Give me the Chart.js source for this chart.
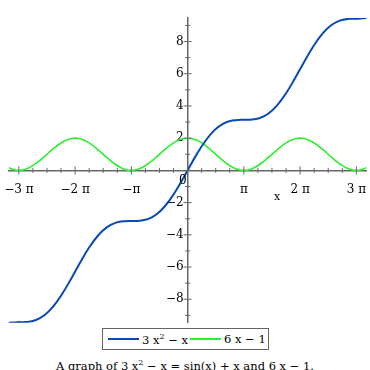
<!DOCTYPE html>
<html>
<head>
<meta charset="utf-8">
<script src="https://cdn.jsdelivr.net/npm/chart.js@4"></script>
<style>
    html, body { margin: 0; padding: 0; background: #fff; }
    #wrap { position: relative; width: 370px; height: 370px; overflow: hidden; font-family: "DejaVu Serif", "Liberation Serif", serif; }
    #plot { position: absolute; left: 0; top: 0; }
    #legend {
        position: absolute; left: 102px; top: 328px; height: 20px;
        border: 1px solid #666; background: #fff; display: flex; align-items: center;
        padding: 0 2px 0 5px; font-size: 11.5px; color: #000; white-space: nowrap;
    }
    #legend .sw { display: inline-block; width: 31px; height: 0; border-top: 2px solid; margin-right: 3px; }
    #legend sup, #caption sup { font-size: 8px; }
    #caption { position: absolute; left: 0; width: 370px; top: 358px; text-align: center; font-size: 11.5px; color: #000; white-space: nowrap; }
</style>
</head>
<body>
<div id="wrap">
    <canvas id="plot" width="370" height="333"></canvas>
    <div id="legend"></div>
    <div id="caption">A graph of 3 x<sup>2</sup> &minus; x = sin(x) + x and 6 x &minus; 1.</div>
</div>
<script>
// values, every 0.5 along x
const xValues = [-10, -9.5, -9, -8.5, -8, -7.5, -7, -6.5, -6, -5.5, -5, -4.5, -4, -3.5, -3, -2.5, -2, -1.5, -1, -0.5,
    0, 0.5, 1, 1.5, 2, 2.5, 3, 3.5, 4, 4.5, 5, 5.5, 6, 6.5, 7, 7.5, 8, 8.5, 9, 9.5, 10];
const blueValues = [-9.46, -9.42, -9.41, -9.30, -8.99, -8.44, -7.66, -6.72, -5.72, -4.79, -4.04, -3.52, -3.24, -3.15, -3.14, -3.10, -2.91, -2.50, -1.84, -0.98,
    0, 0.98, 1.84, 2.50, 2.91, 3.10, 3.14, 3.15, 3.24, 3.52, 4.04, 4.79, 5.72, 6.72, 7.66, 8.44, 8.99, 9.30, 9.41, 9.42, 9.46];
const greenValues = [0.16, 0.00, 0.09, 0.40, 0.85, 1.35, 1.75, 1.98, 1.96, 1.71, 1.28, 0.79, 0.35, 0.06, 0.01, 0.20, 0.58, 1.07, 1.54, 1.88,
    2, 1.88, 1.54, 1.07, 0.58, 0.20, 0.01, 0.06, 0.35, 0.79, 1.28, 1.71, 1.96, 1.98, 1.75, 1.35, 0.85, 0.40, 0.09, 0.00, 0.16];

const seriesNames = ['3 x<sup>2</sup> &minus; x', '6 x &minus; 1'];
const seriesColors = ['#0848b4', '#2cf02c'];

const xTickValues = [-3 * Math.PI, -2 * Math.PI, -Math.PI, Math.PI, 2 * Math.PI, 3 * Math.PI];
const xTickLabels = ['\u22123 \u03c0', '\u22122 \u03c0', '\u2212\u03c0', '\u03c0', '2 \u03c0', '3 \u03c0'];
const yTickValues = [-8, -6, -4, -2, 2, 4, 6, 8];
const axisTitle = 'x';

const xMin = -10, xMax = 10, yMin = -9.46, yMax = 9.46;
const axisColor = '#666';
const serif = '"DejaVu Serif", "Liberation Serif", serif';

// minor tick marks + origin label + x axis name
const axisExtras = {
    id: 'axisExtras',
    afterDraw(chart) {
        const { ctx, scales: { x, y }, chartArea } = chart;
        const x0 = x.getPixelForValue(0), y0 = y.getPixelForValue(0);
        ctx.save();
        ctx.strokeStyle = axisColor;
        ctx.lineWidth = 1;
        ctx.beginPath();
        for (let k = -12; k <= 12; k++) {
            const px = x.getPixelForValue(k * Math.PI / 4);
            const len = k % 4 === 0 ? 4 : 2.5;
            ctx.moveTo(px, y0 - len); ctx.lineTo(px, y0 + len);
        }
        for (let k = -9; k <= 9; k++) {
            const py = y.getPixelForValue(k);
            const len = k % 2 === 0 ? 4 : 2.5;
            ctx.moveTo(x0 - len, py); ctx.lineTo(x0 + len, py);
        }
        ctx.stroke();
        ctx.fillStyle = '#000';
        ctx.font = '12px ' + serif;
        ctx.textAlign = 'right';
        ctx.textBaseline = 'top';
        ctx.fillText('0', x0 - 1, y0 + 4);
        ctx.textAlign = 'center';
        ctx.font = '11px ' + serif;
        ctx.fillText(axisTitle, (x0 + chartArea.right) / 2, y0 + 21);
        ctx.restore();
    }
};

function buildLegend() {
    const el = document.getElementById('legend');
    el.innerHTML = seriesNames.map((name, i) =>
        `<span class="sw" style="border-color:${seriesColors[i]}"></span><span style="margin-right:${i === 0 ? 2 : 0}px">${name}</span>`
    ).join('');
}

function makeChart() {
    const ctx = document.getElementById('plot');
    return new Chart(ctx, {
        type: 'line',
        data: {
            datasets: [
                {
                    data: xValues.map((v, i) => ({ x: v, y: blueValues[i] })),
                    borderColor: seriesColors[0],
                    borderWidth: 2,
                    pointRadius: 0,
                    tension: 0.4
                },
                {
                    data: xValues.map((v, i) => ({ x: v, y: greenValues[i] })),
                    borderColor: seriesColors[1],
                    borderWidth: 1.6,
                    pointRadius: 0,
                    tension: 0.4
                }
            ]
        },
        options: {
            responsive: false,
            animation: false,
            layout: { padding: { left: 7, right: 1, top: 18, bottom: 10 } },
            plugins: { legend: { display: false }, tooltip: { enabled: false } },
            scales: {
                x: {
                    type: 'linear',
                    min: xMin, max: xMax,
                    position: { y: 0 },
                    afterFit: axis => { axis.height = 0; },
                    afterBuildTicks: axis => { axis.ticks = xTickValues.map(v => ({ value: v })); },
                    ticks: {
                        autoSkip: false,
                        maxRotation: 0,
                        color: '#000',
                        font: { family: serif, size: 12 },
                        padding: 4,
                        callback: (v, i) => xTickLabels[i]
                    },
                    grid: { display: false },
                    border: { color: axisColor, width: 1.5 }
                },
                y: {
                    type: 'linear',
                    min: yMin, max: yMax,
                    position: { x: 0 },
                    afterFit: axis => { axis.width = 0; },
                    afterBuildTicks: axis => { axis.ticks = yTickValues.map(v => ({ value: v })); },
                    ticks: {
                        autoSkip: false,
                        color: '#000',
                        font: { family: serif, size: 12 },
                        // labels sit right-aligned on the centred axis, a narrow space keeps them off it
                        callback: v => (v < 0 ? '\u2212' + Math.abs(v) : String(v)) + '\u2004'
                    },
                    grid: { display: false },
                    border: { color: axisColor, width: 1.5 }
                }
            }
        },
        plugins: [axisExtras]
    });
}

buildLegend();
makeChart();
</script>
</body>
</html>
